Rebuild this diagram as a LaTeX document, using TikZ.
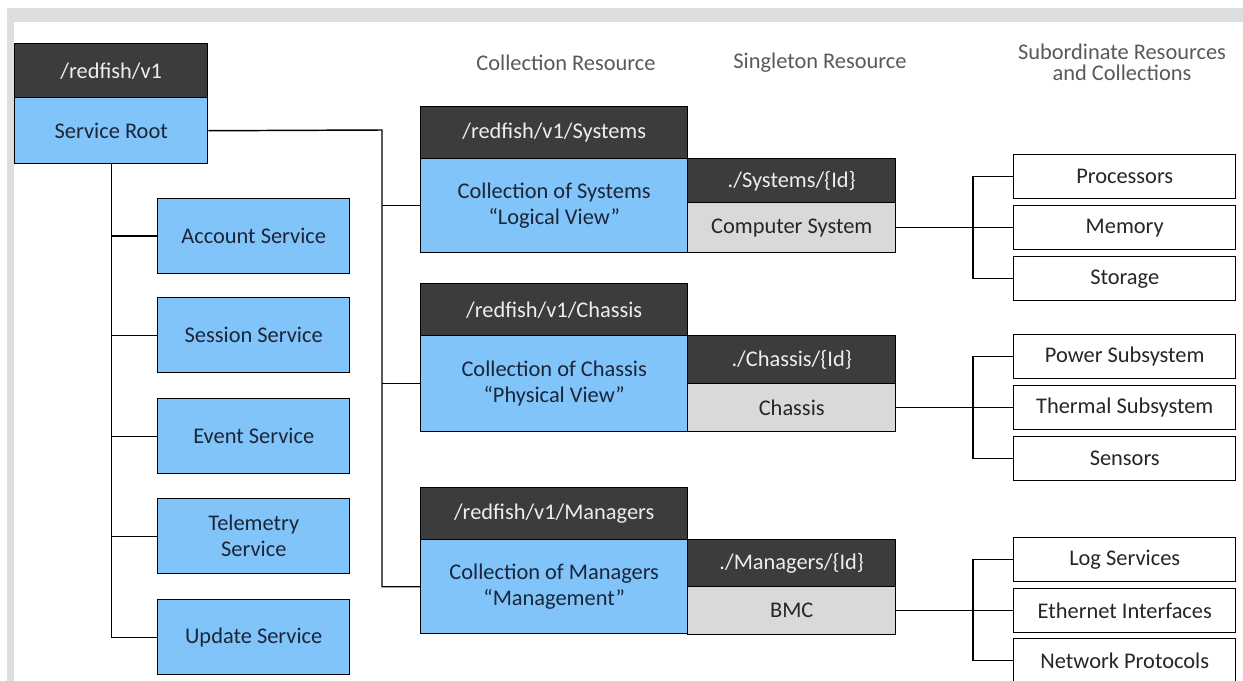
\documentclass[tikz,border=0pt]{standalone}
\usepackage{fontspec}
\setmainfont{Carlito}
\definecolor{frameg}{HTML}{DCDFE2}
\definecolor{darkg}{HTML}{3C3C3C}
\definecolor{skyb}{HTML}{80C4FA}
\definecolor{lightg}{HTML}{D9D9D9}
\definecolor{navy}{HTML}{1C2538}
\definecolor{hdrtxt}{HTML}{595959}
\newcommand{\uu}{0.75pt}
\tikzset{
  every node/.style={font=\fontsize{16.8}{19.5}\selectfont, inner sep=0pt, anchor=north west, align=center},
  boxbase/.style={draw=black, line width=1.1pt, rectangle},
  darkbox/.style={boxbase, fill=darkg, text=white!93!black},
  bluebox/.style={boxbase, fill=skyb, text=navy},
  greybox/.style={boxbase, fill=lightg, text=black!85},
  whitebox/.style={boxbase, fill=white, text=black!85, minimum width=222*\uu, minimum height=44*\uu},
  headtext/.style={text=hdrtxt, anchor=center},
  link/.style={draw=black, line width=1.1pt},
}
\begin{document}
\begin{tikzpicture}[x=0.75pt, y=-0.75pt]
\useasboundingbox (0,0) rectangle (1243,681);
\fill[white] (0,0) rectangle (1243,681);
\fill[frameg] (7,8) rectangle (1243,681);
\fill[white] (14,22) rectangle (1243,681);

% column headers
\node[headtext] (hcoll) at (566,63) {Collection Resource};
\node[headtext] (hsing) at (820,63) {Singleton Resource};
\node[headtext, font=\fontsize{16.8}{16}\selectfont] (hsub) at (1122,62) {Subordinate Resources\\and Collections};

% service root
\node[darkbox, minimum width=193*\uu, minimum height=54*\uu] (rootH) at (14,43) {/redfish/v1};
\node[bluebox, minimum width=193*\uu, minimum height=66*\uu] (root) at (14,97) {Service Root};

% services
\node[bluebox, minimum width=192*\uu, minimum height=75*\uu] (acct) at (157,198) {Account Service};
\node[bluebox, minimum width=192*\uu, minimum height=75*\uu] (sess) at (157,297) {Session Service};
\node[bluebox, minimum width=192*\uu, minimum height=75*\uu] (evt) at (157,398) {Event Service};
\node[bluebox, minimum width=192*\uu, minimum height=75*\uu] (tele) at (157,498) {Telemetry\\Service};
\node[bluebox, minimum width=192*\uu, minimum height=75*\uu] (upd) at (157,599) {Update Service};

% systems
\node[darkbox, minimum width=267*\uu, minimum height=52*\uu] (sysH) at (420,106) {/redfish/v1/Systems};
\node[bluebox, minimum width=267*\uu, minimum height=94*\uu] (sys) at (420,158) {Collection of Systems\\``Logical View''};
\node[darkbox, minimum width=208*\uu, minimum height=44*\uu] (sysIdH) at (687,158) {./Systems/\{Id\}};
\node[greybox, minimum width=208*\uu, minimum height=50*\uu] (sysId) at (687,202) {Computer System};

% chassis
\node[darkbox, minimum width=267*\uu, minimum height=52*\uu] (chH) at (420,283) {/redfish/v1/Chassis};
\node[bluebox, minimum width=267*\uu, minimum height=96*\uu] (ch) at (420,335) {Collection of Chassis\\``Physical View''};
\node[darkbox, minimum width=208*\uu, minimum height=48*\uu] (chIdH) at (687,335) {./Chassis/\{Id\}};
\node[greybox, minimum width=208*\uu, minimum height=48*\uu] (chId) at (687,383) {Chassis};

% managers
\node[darkbox, minimum width=267*\uu, minimum height=52*\uu] (mgH) at (420,487) {/redfish/v1/Managers};
\node[bluebox, minimum width=267*\uu, minimum height=94*\uu] (mg) at (420,539) {Collection of Managers\\``Management''};
\node[darkbox, minimum width=208*\uu, minimum height=47*\uu] (mgIdH) at (687,539) {./Managers/\{Id\}};
\node[greybox, minimum width=208*\uu, minimum height=48*\uu] (mgId) at (687,586) {BMC};

% subordinate resources
\node[whitebox] (proc) at (1013,154) {Processors};
\node[whitebox] (mem) at (1013,205) {Memory};
\node[whitebox] (stor) at (1013,256) {Storage};
\node[whitebox] (pow) at (1013,334) {Power Subsystem};
\node[whitebox] (therm) at (1013,385) {Thermal Subsystem};
\node[whitebox] (sens) at (1013,436) {Sensors};
\node[whitebox] (logs) at (1013,537) {Log Services};
\node[whitebox] (eth) at (1013,588) {Ethernet Interfaces};
\node[whitebox] (net) at (1013,638) {Network Protocols};

% left tree
\draw[link] (root.south) |- (upd.west);
\foreach \n in {acct,sess,evt,tele}
  \draw[link] (\n.west) -- (\n.west -| root.south);

% right tree
\coordinate (bus) at (382,130);
\draw[link] (root.east) -- (bus) |- (mg.west);
\draw[link] (sys.west) -- (sys.west -| bus);
\draw[link] (ch.west) -- (ch.west -| bus);

% subordinate connectors
\coordinate (sbus) at (973,0);
\draw[link] (sysId.east) -- (sysId.east -| mem.west);
\draw[link] (proc.west) -- (proc.west -| sbus) -- (stor.west -| sbus) -- (stor.west);
\draw[link] (chId.east) -- (chId.east -| therm.west);
\draw[link] (pow.west) -- (pow.west -| sbus) -- (sens.west -| sbus) -- (sens.west);
\draw[link] (mgId.east) -- (mgId.east -| eth.west);
\draw[link] (logs.west) -- (logs.west -| sbus) -- (net.west -| sbus) -- (net.west);
\end{tikzpicture}
\end{document}
